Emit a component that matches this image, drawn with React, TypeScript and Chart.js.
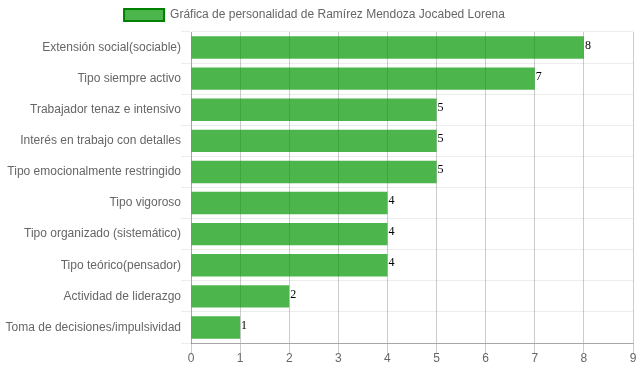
import React, { useEffect, useRef } from "react";
import { Chart, registerables } from "chart.js";

Chart.register(...registerables);

const categories = [
  "Extensión social(sociable)",
  "Tipo siempre activo",
  "Trabajador tenaz e intensivo",
  "Interés en trabajo con detalles",
  "Tipo emocionalmente restringido",
  "Tipo vigoroso",
  "Tipo organizado (sistemático)",
  "Tipo teórico(pensador)",
  "Actividad de liderazgo",
  "Toma de decisiones/impulsividad",
];
const values = [8, 7, 5, 5, 5, 4, 4, 4, 2, 1];
const seriesLabel = "Gráfica de personalidad de Ramírez Mendoza Jocabed Lorena";
const xMin = 0;
const xMax = 9;

const FONT = "'Liberation Sans', Arial, Helvetica, sans-serif";

const valueLabels = {
  id: "valueLabels",
  afterDatasetsDraw(chart: any) {
    const ctx = chart.ctx;
    const meta = chart.getDatasetMeta(0);
    ctx.save();
    ctx.font = "12px 'Liberation Serif', 'Times New Roman', serif";
    ctx.fillStyle = "#000";
    ctx.textAlign = "left";
    ctx.textBaseline = "middle";
    meta.data.forEach((bar: any, i: number) => {
      ctx.fillText(String(values[i]), bar.x + 1, bar.y - 2);
    });
    ctx.restore();
  },
};

const legendShift = {
  id: "legendShift",
  afterLayout(chart: any) {
    if (chart.legend) {
      chart.legend.left -= 2;
      chart.legend.right -= 2;
      chart.legend.top -= 1;
      chart.legend.bottom -= 1;
    }
  },
};

export default function App() {
  const ref = useRef<HTMLCanvasElement | null>(null);
  useEffect(() => {
    document.body.style.margin = "0";
    const chart = new Chart(ref.current as HTMLCanvasElement, {
      type: "bar",
      data: {
        labels: categories,
        datasets: [
          {
            label: seriesLabel,
            data: values,
            backgroundColor: "rgba(0, 150, 0, 0.7)",
            borderColor: "rgb(0, 128, 0)",
            borderWidth: 0,
          },
        ],
      },
      options: {
        indexAxis: "y",
        animation: false,
        responsive: false,
        maintainAspectRatio: false,
        layout: { padding: { left: 0, right: 6, top: 0, bottom: 0 } },
        plugins: {
          tooltip: { enabled: false },
          legend: {
            position: "top",
            labels: {
              color: "#666",
              font: { family: FONT, size: 12 },
              boxWidth: 40,
              boxHeight: 12,
              padding: 10,
              generateLabels: () => [
                {
                  text: seriesLabel,
                  fillStyle: "rgba(0, 150, 0, 0.7)",
                  strokeStyle: "rgb(0, 128, 0)",
                  lineWidth: 2,
                  hidden: false,
                  datasetIndex: 0,
                  fontColor: "#666",
                },
              ],
            },
          },
        },
        scales: {
          x: {
            min: xMin,
            max: xMax,
            ticks: {
              stepSize: 1,
              color: "#666",
              font: { family: FONT, size: 12 },
              padding: -2,
            },
            grid: {
              color: "rgba(0,0,0,0.2)",
              tickLength: 10,
            },
            border: { color: "rgba(0,0,0,0.3)" },
            afterFit: (scale: any) => {
              scale.height = 29;
            },
          },
          y: {
            ticks: {
              color: "#666",
              font: { family: FONT, size: 12 },
              padding: 0,
              autoSkip: false,
            },
            grid: {
              color: "rgba(0,0,0,0.07)",
              tickLength: 10,
            },
            border: { color: "rgba(0,0,0,0.2)" },
            afterFit: (scale: any) => {
              scale.width = 191;
            },
          },
        },
      },
      plugins: [valueLabels, legendShift],
    } as any);
    return () => chart.destroy();
  }, []);
  return (
    <div style={{ position: "absolute", left: 0, top: 0, width: 639, height: 372 }}>
      <canvas ref={ref} width={639} height={372} style={{ display: "block" }} />
    </div>
  );
}
